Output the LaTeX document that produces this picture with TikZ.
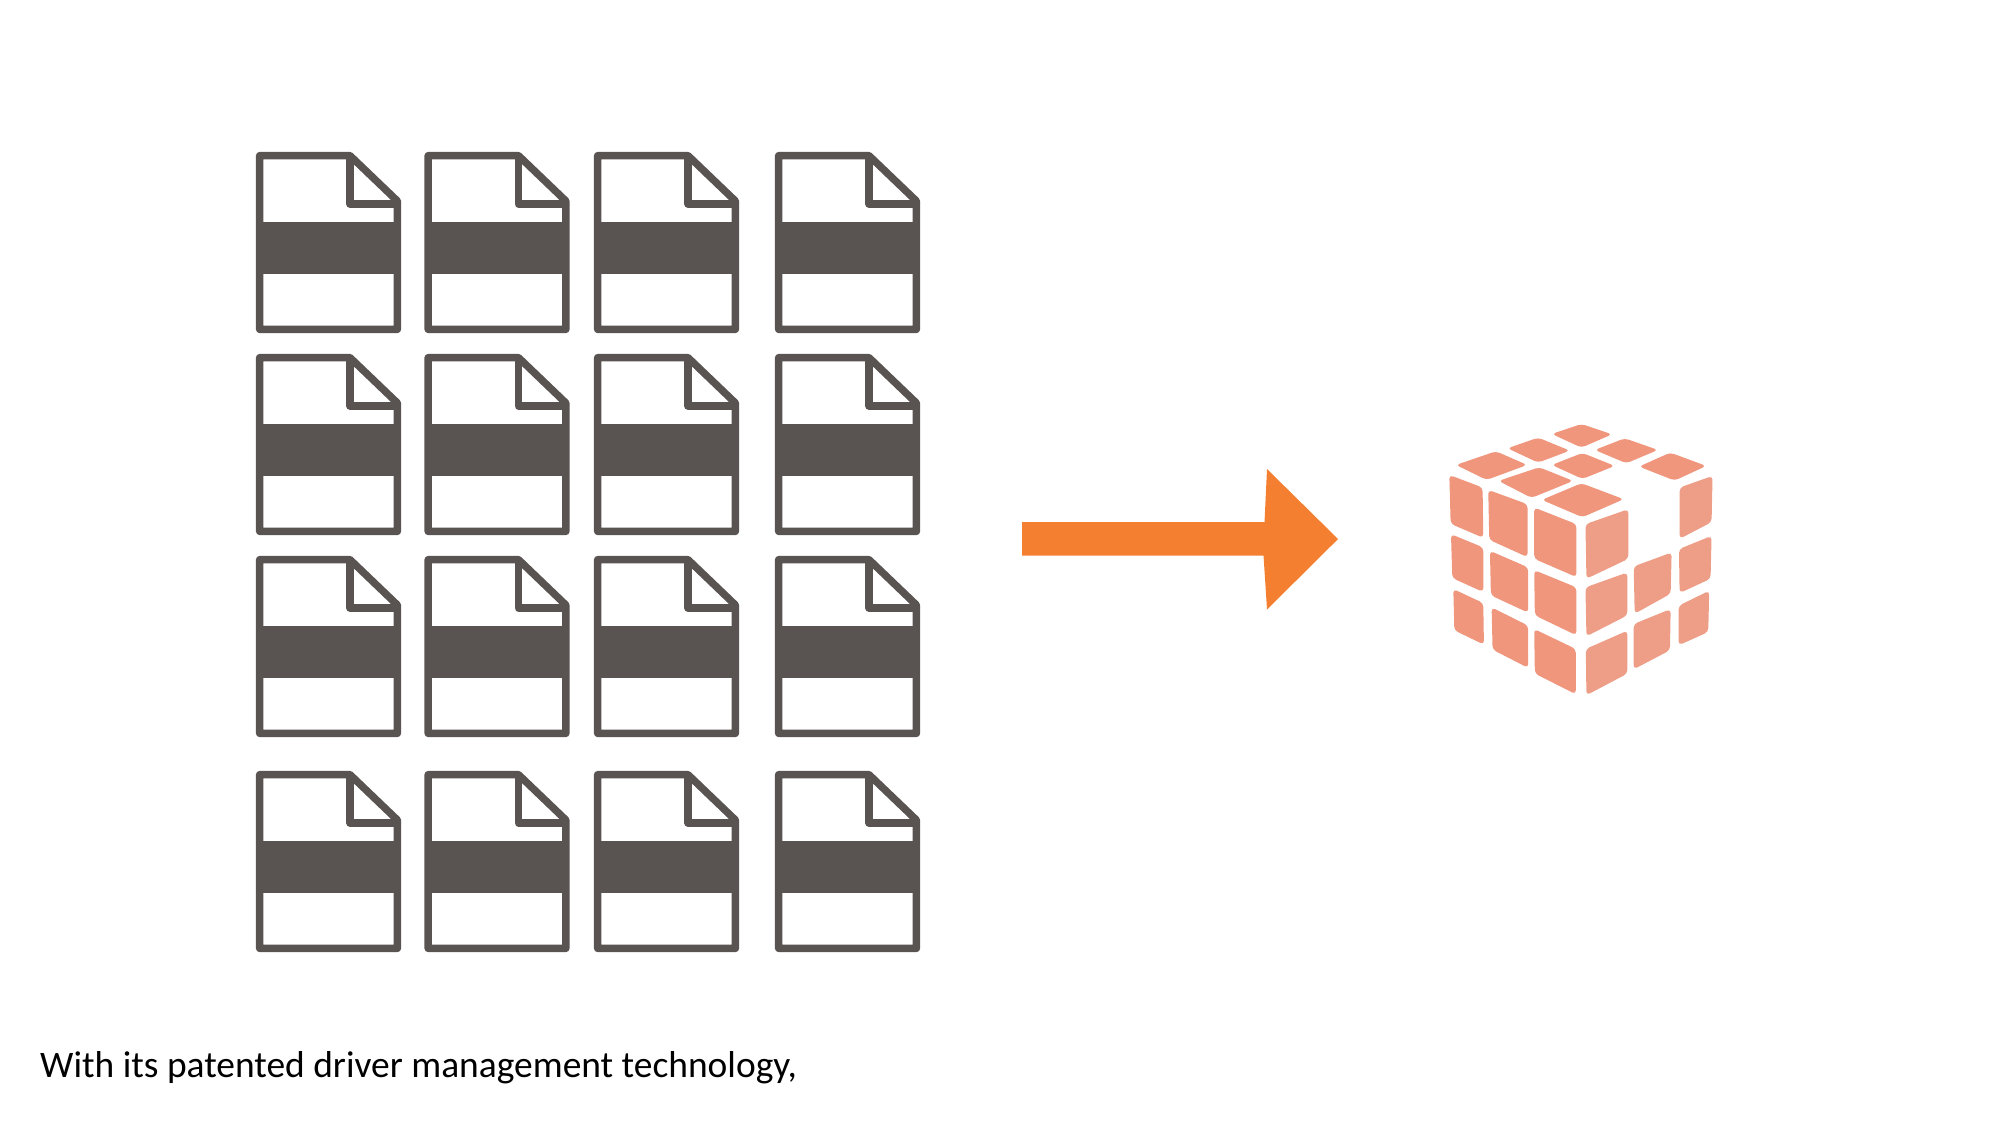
\documentclass[tikz,border=0pt]{standalone}
\usepackage{fontspec}
\setmainfont{Carlito}
\usepackage{tikz}

\definecolor{docgray}{HTML}{595352}
\definecolor{arroworange}{HTML}{F47F30}
\definecolor{cubeleft}{HTML}{EF967D}
\definecolor{cuberight}{HTML}{EE9E87}

% one file icon, #1 and #2 are its top left corner
\newcommand{\docfile}[2]{
\begin{scope}[shift={(#1,#2)}]
\fill[docgray](1,70)rectangle(144,122);
\draw[docline](3.6,3.6)--(94,3.6)--(141.4,49)--(141.4,177.4)--(3.6,177.4)--cycle;
\draw[docline](94,3.6)--(94,52)--(141.4,52);
\end{scope}
}

\begin{document}
\begin{tikzpicture}[x=0.01cm,y=-0.01cm,
docline/.style={draw=docgray,line width=2.1pt,line join=round},
cubecell/.style={rounded corners=1.1pt}]
\tikzstyle{every node}=[font=\fontsize{10.65}{13}\selectfont]
\useasboundingbox(0,0)rectangle(2001,1126);

\foreach \docx in {256,424.5,594,775}
\foreach \docy in {152,354,556,771}
{\docfile{\docx}{\docy}}

\fill[arroworange](1022,522)--(1264.5,522)--(1267,469)--(1338,539)--(1267,609.5)--(1263.5,555.5)--(1022,555.5)--cycle;

\begin{scope}[shift={(1430,410)},x=0.00333cm,y=-0.00333cm]
% top and left faces
\foreach \ax/\ay/\bx/\by/\cx/\cy/\dx/\dy in {
366/72/455/42/547/73/455/113,
233/115/325/83/420/122/325/158,
495/120/585/85/685/120/590/160,
78/165/198/124/292/165/170/210,
366/165/458/129/555/168/458/207,
628/170/722/128/830/168/735/212,
206/213/328/172/430/213/305/264,
336/270/455/220/582/268/458/322,
58/195/158/233/160/384/62/342,
175/240/293/283/293/442/178/390,
313/293/440/343/440/502/313/447,
63/373/160/413/160/547/67/505,
180/423/295/473/295/609/183/557,
313/481/440/533/440/677/315/617,
70/538/160/580/162/705/73/662,
185/593/295/648/295/775/188/720,
313/658/438/718/438/854/315/792}
\fill[cubeleft,cubecell](\ax,\ay)--(\bx,\by)--(\cx,\cy)--(\dx,\dy)--cycle;
% right face
\foreach \ax/\ay/\bx/\by/\cx/\cy/\dx/\dy in {
467/343/596/298/596/447/470/507,
467/533/593/488/593/617/470/680,
468/718/593/663/593/792/470/857,
612/470/726/428/723/552/615/612,
612/643/723/598/721/722/612/779,
750/233/849/198/846/337/750/387,
748/418/846/378/843/507/750/550,
747/588/839/543/836/667/747/707}
\fill[cuberight,cubecell](\ax,\ay)--(\bx,\by)--(\cx,\cy)--(\dx,\dy)--cycle;
\end{scope}

\node[anchor=base west,inner sep=0pt](caption)at(39.5,1077){With its patented driver management technology,};
\end{tikzpicture}
\end{document}
